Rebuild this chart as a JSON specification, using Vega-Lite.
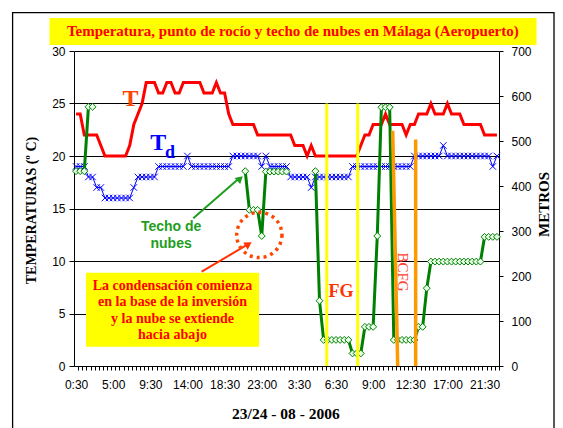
{
  "$schema": "https://vega.github.io/schema/vega-lite/v6.json",
  "width": 425,
  "height": 315,
  "autosize": {"type": "none"},
  "padding": {"left": 74, "top": 51, "right": 64, "bottom": 62},
  "background": "white",
  "datasets": {
    "obs": [
      {"i":0,"T":24,"Td":19,"C":433},{"i":1,"T":24,"Td":19,"C":433},{"i":2,"T":22,"Td":19,"C":433},{"i":3,"T":22,"Td":18,"C":576},{"i":4,"T":22,"Td":18,"C":576},
      {"i":5,"T":22,"Td":17,"C":null},{"i":6,"T":21,"Td":17,"C":null},{"i":7,"T":20,"Td":16,"C":null},{"i":8,"T":20,"Td":16,"C":null},{"i":9,"T":20,"Td":16,"C":null},
      {"i":10,"T":20,"Td":16,"C":null},{"i":11,"T":20,"Td":16,"C":null},{"i":12,"T":20,"Td":16,"C":null},{"i":13,"T":21,"Td":16,"C":null},{"i":14,"T":23,"Td":17,"C":null},
      {"i":15,"T":24,"Td":18,"C":null},{"i":16,"T":25,"Td":18,"C":null},{"i":17,"T":27,"Td":18,"C":null},{"i":18,"T":27,"Td":18,"C":null},{"i":19,"T":27,"Td":18,"C":null},
      {"i":20,"T":26,"Td":19,"C":null},{"i":21,"T":26,"Td":19,"C":null},{"i":22,"T":27,"Td":19,"C":null},{"i":23,"T":27,"Td":19,"C":null},{"i":24,"T":26,"Td":19,"C":null},
      {"i":25,"T":26,"Td":19,"C":null},{"i":26,"T":27,"Td":19,"C":null},{"i":27,"T":27,"Td":20,"C":null},{"i":28,"T":27,"Td":19,"C":null},{"i":29,"T":27,"Td":19,"C":null},
      {"i":30,"T":27,"Td":19,"C":null},{"i":31,"T":26,"Td":19,"C":null},{"i":32,"T":26,"Td":19,"C":null},{"i":33,"T":26,"Td":19,"C":null},{"i":34,"T":27,"Td":19,"C":null},
      {"i":35,"T":26,"Td":19,"C":null},{"i":36,"T":26,"Td":19,"C":null},{"i":37,"T":24,"Td":19,"C":null},{"i":38,"T":23,"Td":20,"C":null},{"i":39,"T":23,"Td":20,"C":null},
      {"i":40,"T":23,"Td":20,"C":null},{"i":41,"T":23,"Td":20,"C":433},{"i":42,"T":23,"Td":20,"C":347},{"i":43,"T":23,"Td":20,"C":347},{"i":44,"T":22,"Td":20,"C":347},
      {"i":45,"T":22,"Td":19,"C":289},{"i":46,"T":22,"Td":20,"C":432},{"i":47,"T":22,"Td":19,"C":432},{"i":48,"T":22,"Td":19,"C":432},{"i":49,"T":22,"Td":19,"C":432},
      {"i":50,"T":22,"Td":19,"C":432},{"i":51,"T":22,"Td":19,"C":432},{"i":52,"T":22,"Td":18,"C":null},{"i":53,"T":21,"Td":18,"C":null},{"i":54,"T":21,"Td":18,"C":null},
      {"i":55,"T":21,"Td":18,"C":null},{"i":56,"T":20,"Td":18,"C":null},{"i":57,"T":21,"Td":17,"C":null},{"i":58,"T":20,"Td":18,"C":433},{"i":59,"T":20,"Td":18,"C":145},
      {"i":60,"T":20,"Td":18,"C":58},{"i":61,"T":20,"Td":18,"C":58},{"i":62,"T":20,"Td":18,"C":58},{"i":63,"T":20,"Td":18,"C":58},{"i":64,"T":20,"Td":18,"C":58},
      {"i":65,"T":20,"Td":18,"C":58},{"i":66,"T":20,"Td":18,"C":58},{"i":67,"T":20,"Td":19,"C":28},{"i":68,"T":20,"Td":19,"C":28},{"i":69,"T":21,"Td":19,"C":28},
      {"i":70,"T":22,"Td":19,"C":87},{"i":71,"T":22,"Td":19,"C":87},{"i":72,"T":23,"Td":19,"C":87},{"i":73,"T":23,"Td":19,"C":289},{"i":74,"T":23,"Td":19,"C":575},
      {"i":75,"T":24,"Td":19,"C":575},{"i":76,"T":23,"Td":19,"C":575},{"i":77,"T":23,"Td":19,"C":58},{"i":78,"T":23,"Td":19,"C":58},{"i":79,"T":23,"Td":19,"C":58},
      {"i":80,"T":22,"Td":19,"C":58},{"i":81,"T":23,"Td":19,"C":58},{"i":82,"T":23,"Td":20,"C":58},{"i":83,"T":24,"Td":20,"C":87},{"i":84,"T":24,"Td":20,"C":87},
      {"i":85,"T":24,"Td":20,"C":173},{"i":86,"T":25,"Td":20,"C":232},{"i":87,"T":24,"Td":20,"C":232},{"i":88,"T":24,"Td":20,"C":232},{"i":89,"T":24,"Td":21,"C":232},
      {"i":90,"T":25,"Td":20,"C":232},{"i":91,"T":24,"Td":20,"C":232},{"i":92,"T":24,"Td":20,"C":232},{"i":93,"T":24,"Td":20,"C":232},{"i":94,"T":23,"Td":20,"C":232},
      {"i":95,"T":23,"Td":20,"C":232},{"i":96,"T":23,"Td":20,"C":232},{"i":97,"T":23,"Td":20,"C":232},{"i":98,"T":23,"Td":20,"C":232},{"i":99,"T":22,"Td":20,"C":287},
      {"i":100,"T":22,"Td":20,"C":287},{"i":101,"T":22,"Td":19,"C":287},{"i":102,"T":22,"Td":20,"C":287}
    ]
  },
  "data": {"name": "obs"},
  "layer": [
    {
      "mark": {"type": "line", "color": "#FF0000", "strokeWidth": 3},
      "encoding": {
        "x": {
          "field": "i", "type": "quantitative",
          "scale": {"domain": [-0.5, 102.5]},
          "axis": {
            "orient": "bottom",
            "values": [0,1,2,3,4,5,6,7,8,9,10,11,12,13,14,15,16,17,18,19,20,21,22,23,24,25,26,27,28,29,30,31,32,33,34,35,36,37,38,39,40,41,42,43,44,45,46,47,48,49,50,51,52,53,54,55,56,57,58,59,60,61,62,63,64,65,66,67,68,69,70,71,72,73,74,75,76,77,78,79,80,81,82,83,84,85,86,87,88,89,90,91,92,93,94,95,96,97,98,99,100,101,102],
            "labelExpr": "datum.value == 0 ? '0:30' : datum.value == 9 ? '5:00' : datum.value == 18 ? '9:30' : datum.value == 27 ? '14:00' : datum.value == 36 ? '18:30' : datum.value == 45 ? '23:00' : datum.value == 54 ? '3:30' : datum.value == 63 ? '6:30' : datum.value == 72 ? '9:00' : datum.value == 81 ? '12:30' : datum.value == 90 ? '17:00' : datum.value == 99 ? '21:30' : ''",
            "tickOffset": 2.06,
            "labelOffset": -2.06,
            "tickSize": 4,
            "labelPadding": 9,
            "labelOverlap": false,
            "labelFlush": false,
            "labelBound": false,
            "grid": false,
            "title": "23/24 - 08 - 2006",
            "titleFontSize": 15.5,
            "titleX": 211.4,
            "titleY": 47.8,
            "titleBaseline": "middle",
            "titleAlign": "center"
          }
        },
        "y": {
          "field": "T", "type": "quantitative",
          "scale": {"domain": [0, 30]},
          "axis": {
            "orient": "left",
            "values": [0,5,10,15,20,25,30],
            "grid": true,
            "gridColor": "#000000",
            "gridWidth": 1,
            "tickSize": 5,
            "labelPadding": 4,
            "title": "TEMPERATURAS (º C)",
            "titleFontSize": 14,
            "titleX": -43,
            "titleY": 159,
            "titleAngle": 270,
            "titleBaseline": "middle",
            "titleAlign": "center"
          }
        }
      }
    },
    {
      "mark": {"type": "line", "color": "#0000FF", "strokeWidth": 1},
      "encoding": {
        "x": {"field": "i", "type": "quantitative", "scale": {"domain": [-0.5, 102.5]}, "axis": null},
        "y": {"field": "Td", "type": "quantitative", "scale": {"domain": [0, 30]}, "axis": null}
      }
    },
    {
      "mark": {"type": "point", "shape": "M-1,-1L1,1M-1,1L1,-1", "filled": false, "color": "#0000FF", "strokeWidth": 1, "size": 42, "opacity": 1},
      "encoding": {
        "x": {"field": "i", "type": "quantitative", "scale": {"domain": [-0.5, 102.5]}, "axis": null},
        "y": {"field": "Td", "type": "quantitative", "scale": {"domain": [0, 30]}, "axis": null}
      }
    },
    {
      "mark": {"type": "line", "color": "#008000", "strokeWidth": 3, "invalid": "break-paths-show-domains"},
      "encoding": {
        "x": {"field": "i", "type": "quantitative", "scale": {"domain": [-0.5, 102.5]}, "axis": null},
        "y": {
          "field": "C", "type": "quantitative",
          "scale": {"domain": [0, 700]},
          "axis": {
            "orient": "right",
            "values": [0,100,200,300,400,500,600,700],
            "grid": false,
            "tickSize": 4,
            "labelPadding": 8,
            "title": "METROS",
            "titleFontSize": 15,
            "titleX": 44,
            "titleY": 153,
            "titleAngle": 270,
            "titleBaseline": "middle",
            "titleAlign": "center"
          }
        }
      }
    },
    {
      "mark": {"type": "point", "shape": "diamond", "filled": true, "fill": "#E8FFE8", "stroke": "#008000", "strokeWidth": 1, "size": 48, "opacity": 1},
      "encoding": {
        "x": {"field": "i", "type": "quantitative", "scale": {"domain": [-0.5, 102.5]}, "axis": null},
        "y": {"field": "C", "type": "quantitative", "scale": {"domain": [0, 700]}, "axis": null}
      }
    },
    {
      "data": {"values": [{}]},
      "mark": {"type": "rect", "filled": false, "stroke": "#000000", "strokeWidth": 1.3},
      "encoding": {
        "x": {"datum": -15.38, "type": "quantitative", "scale": {"domain": [-0.5, 102.5]}, "axis": null},
        "x2": {"datum": 115.83},
        "y": {"datum": 33.66, "type": "quantitative", "scale": {"domain": [0, 30]}, "axis": null},
        "y2": {"datum": -7}
      }
    },
    {
      "data": {"values": [{}]},
      "mark": {"type": "rect", "fill": "#FFFF00", "stroke": null},
      "encoding": {
        "x": {"datum": -6.44, "type": "quantitative", "scale": {"domain": [-0.5, 102.5]}, "axis": null},
        "x2": {"datum": 111.6},
        "y": {"datum": 33.14, "type": "quantitative", "scale": {"domain": [0, 30]}, "axis": null},
        "y2": {"datum": 30.57}
      }
    },
    {
      "data": {"values": [{}]},
      "mark": {"type": "text", "text": "Temperatura, punto de rocío y techo de nubes en Málaga (Aeropuerto)", "font": "Liberation Serif", "fontSize": 15, "fontWeight": "bold", "color": "#FF0000", "align": "center", "baseline": "middle"},
      "encoding": {
        "x": {"datum": 52.53, "type": "quantitative", "scale": {"domain": [-0.5, 102.5]}, "axis": null},
        "y": {"datum": 31.86, "type": "quantitative", "scale": {"domain": [0, 30]}, "axis": null}
      }
    },
    {
      "data": {"values": [{}]},
      "mark": {"type": "rule", "color": "#FFFF00", "strokeWidth": 3},
      "encoding": {
        "x": {"datum": 60.75, "type": "quantitative", "scale": {"domain": [-0.5, 102.5]}, "axis": null},
        "y": {"datum": 0, "type": "quantitative", "scale": {"domain": [0, 30]}, "axis": null},
        "y2": {"datum": 25}
      }
    },
    {
      "data": {"values": [{}]},
      "mark": {"type": "rule", "color": "#FFFF00", "strokeWidth": 3},
      "encoding": {
        "x": {"datum": 68.26, "type": "quantitative", "scale": {"domain": [-0.5, 102.5]}, "axis": null},
        "y": {"datum": 0, "type": "quantitative", "scale": {"domain": [0, 30]}, "axis": null},
        "y2": {"datum": 25}
      }
    },
    {
      "data": {"values": [{}]},
      "mark": {"type": "rule", "color": "#FF9900", "strokeWidth": 3.5},
      "encoding": {
        "x": {"datum": 76.74, "type": "quantitative", "scale": {"domain": [-0.5, 102.5]}, "axis": null},
        "x2": {"datum": 77.95},
        "y": {"datum": 22.4, "type": "quantitative", "scale": {"domain": [0, 30]}, "axis": null},
        "y2": {"datum": 0}
      }
    },
    {
      "data": {"values": [{}]},
      "mark": {"type": "rule", "color": "#FF9900", "strokeWidth": 3.5},
      "encoding": {
        "x": {"datum": 82.3, "type": "quantitative", "scale": {"domain": [-0.5, 102.5]}, "axis": null},
        "y": {"datum": 21.56, "type": "quantitative", "scale": {"domain": [0, 30]}, "axis": null},
        "y2": {"datum": 0}
      }
    },
    {
      "data": {"values": [{}]},
      "mark": {"type": "rect", "fill": "#FFFF00", "stroke": null},
      "encoding": {
        "x": {"datum": 2.41, "type": "quantitative", "scale": {"domain": [-0.5, 102.5]}, "axis": null},
        "x2": {"datum": 44.34},
        "y": {"datum": 8.89, "type": "quantitative", "scale": {"domain": [0, 30]}, "axis": null},
        "y2": {"datum": 1.84}
      }
    },
    {
      "data": {"values": [{}]},
      "mark": {"type": "text", "text": "La condensación comienza\nen la base de la inversión\ny la nube se extiende\nhacia abajo", "lineBreak": "\n", "lineHeight": 16.4, "font": "Liberation Serif", "fontSize": 14, "fontWeight": "bold", "color": "#FF0000", "align": "center", "baseline": "middle"},
      "encoding": {
        "x": {"datum": 23.37, "type": "quantitative", "scale": {"domain": [-0.5, 102.5]}, "axis": null},
        "y": {"datum": 7.62, "type": "quantitative", "scale": {"domain": [0, 30]}, "axis": null}
      }
    },
    {
      "data": {"values": [{}]},
      "mark": {"type": "text", "text": "Techo de\nnubes", "lineBreak": "\n", "lineHeight": 17, "font": "Liberation Sans", "fontSize": 14, "fontWeight": "bold", "color": "#1E9E1E", "align": "center", "baseline": "middle"},
      "encoding": {
        "x": {"datum": 23.03, "type": "quantitative", "scale": {"domain": [-0.5, 102.5]}, "axis": null},
        "y": {"datum": 13.24, "type": "quantitative", "scale": {"domain": [0, 30]}, "axis": null}
      }
    },
    {
      "data": {"values": [{}]},
      "mark": {"type": "rule", "color": "#1E9E1E", "strokeWidth": 2},
      "encoding": {
        "x": {"datum": 28.41, "type": "quantitative", "scale": {"domain": [-0.5, 102.5]}, "axis": null},
        "x2": {"datum": 39.6},
        "y": {"datum": 14.07, "type": "quantitative", "scale": {"domain": [0, 30]}, "axis": null},
        "y2": {"datum": 17.9}
      }
    },
    {
      "data": {"values": [{}]},
      "mark": {"type": "point", "shape": "triangle-up", "filled": true, "color": "#1E9E1E", "size": 70, "angle": 48, "opacity": 1},
      "encoding": {
        "x": {"datum": 39.75, "type": "quantitative", "scale": {"domain": [-0.5, 102.5]}, "axis": null},
        "y": {"datum": 17.85, "type": "quantitative", "scale": {"domain": [0, 30]}, "axis": null}
      }
    },
    {
      "data": {"values": [{}]},
      "mark": {"type": "rule", "color": "#FF3300", "strokeWidth": 2},
      "encoding": {
        "x": {"datum": 30.45, "type": "quantitative", "scale": {"domain": [-0.5, 102.5]}, "axis": null},
        "x2": {"datum": 41.7},
        "y": {"datum": 8.98, "type": "quantitative", "scale": {"domain": [0, 30]}, "axis": null},
        "y2": {"datum": 11.6}
      }
    },
    {
      "data": {"values": [{}]},
      "mark": {"type": "point", "shape": "triangle-up", "filled": true, "color": "#FF3300", "size": 70, "angle": 58, "opacity": 1},
      "encoding": {
        "x": {"datum": 41.8, "type": "quantitative", "scale": {"domain": [-0.5, 102.5]}, "axis": null},
        "y": {"datum": 11.6, "type": "quantitative", "scale": {"domain": [0, 30]}, "axis": null}
      }
    },
    {
      "data": {"values": [{}]},
      "mark": {"type": "point", "shape": "circle", "filled": false, "stroke": "#FF4500", "strokeWidth": 3.5, "strokeDash": [3, 4], "size": 2050, "opacity": 1},
      "encoding": {
        "x": {"datum": 44.41, "type": "quantitative", "scale": {"domain": [-0.5, 102.5]}, "axis": null},
        "y": {"datum": 12.48, "type": "quantitative", "scale": {"domain": [0, 30]}, "axis": null}
      }
    },
    {
      "data": {"values": [{}]},
      "mark": {"type": "text", "text": "T", "font": "Liberation Serif", "fontSize": 24, "fontWeight": "bold", "color": "#FF4400", "align": "center", "baseline": "middle"},
      "encoding": {
        "x": {"datum": 13.19, "type": "quantitative", "scale": {"domain": [-0.5, 102.5]}, "axis": null},
        "y": {"datum": 25.43, "type": "quantitative", "scale": {"domain": [0, 30]}, "axis": null}
      }
    },
    {
      "data": {"values": [{}]},
      "mark": {"type": "text", "text": "T", "font": "Liberation Serif", "fontSize": 24, "fontWeight": "bold", "color": "#0000FF", "align": "center", "baseline": "middle"},
      "encoding": {
        "x": {"datum": 19.93, "type": "quantitative", "scale": {"domain": [-0.5, 102.5]}, "axis": null},
        "y": {"datum": 21.21, "type": "quantitative", "scale": {"domain": [0, 30]}, "axis": null}
      }
    },
    {
      "data": {"values": [{}]},
      "mark": {"type": "text", "text": "d", "font": "Liberation Serif", "fontSize": 18, "fontWeight": "bold", "color": "#0000FF", "align": "center", "baseline": "middle"},
      "encoding": {
        "x": {"datum": 22.77, "type": "quantitative", "scale": {"domain": [-0.5, 102.5]}, "axis": null},
        "y": {"datum": 20.31, "type": "quantitative", "scale": {"domain": [0, 30]}, "axis": null}
      }
    },
    {
      "data": {"values": [{}]},
      "mark": {"type": "text", "text": "FG", "font": "Liberation Serif", "fontSize": 18, "fontWeight": "bold", "color": "#FF3300", "align": "center", "baseline": "middle"},
      "encoding": {
        "x": {"datum": 64.21, "type": "quantitative", "scale": {"domain": [-0.5, 102.5]}, "axis": null},
        "y": {"datum": 7.05, "type": "quantitative", "scale": {"domain": [0, 30]}, "axis": null}
      }
    },
    {
      "data": {"values": [{}]},
      "mark": {"type": "text", "text": "BCFG", "font": "Liberation Serif", "fontSize": 15, "color": "#FF4030", "align": "center", "baseline": "middle", "angle": 90},
      "encoding": {
        "x": {"datum": 79.24, "type": "quantitative", "scale": {"domain": [-0.5, 102.5]}, "axis": null},
        "y": {"datum": 8.95, "type": "quantitative", "scale": {"domain": [0, 30]}, "axis": null}
      }
    }
  ],
  "resolve": {"scale": {"y": "independent"}, "axis": {"x": "independent"}},
  "config": {
    "view": {"stroke": null},
    "axis": {
      "domainColor": "#000000",
      "domainWidth": 1,
      "tickColor": "#000000",
      "labelColor": "#000000",
      "labelFont": "Liberation Sans",
      "labelFontSize": 12,
      "titleColor": "#000000",
      "titleFont": "Liberation Serif",
      "titleFontWeight": "bold"
    }
  }
}
